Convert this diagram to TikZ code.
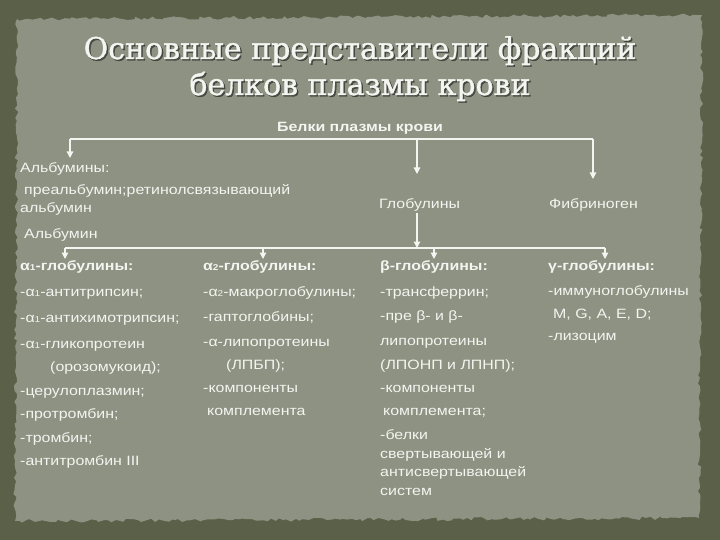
\documentclass[tikz,border=0pt]{standalone}
\usepackage{fontspec}
\setmainfont[FakeStretch=1.18]{Liberation Sans}
\newfontfamily\titlefont[FakeBold=1.2]{DejaVu Serif}
\usetikzlibrary{arrows.meta,decorations.pathmorphing}
\definecolor{bgdark}{HTML}{5B6049}
\definecolor{paper}{HTML}{8E9283}
\definecolor{txt}{HTML}{F4F4F0}
\newcommand{\sub}[1]{{\fontsize{8.5}{9}\selectfont #1}}
\begin{document}
\begin{tikzpicture}[x=1pt,y=-1pt,
  lbl/.style={text=txt, font=\fontsize{13.5}{15}\selectfont, anchor=base west, inner sep=0pt},
  hdr/.style={lbl, font=\fontsize{13.5}{15}\selectfont\bfseries},
  ttl/.style={text=txt, font=\titlefont\fontsize{30}{34}\selectfont, inner sep=0pt, anchor=base},
  ttlshadow/.style={ttl, text=black, opacity=0.45},
  conn/.style={draw=txt, line width=1.2pt},
  arr/.style={conn, -{Triangle[width=6.5pt,length=6.5pt]}}]
\useasboundingbox (0,0) rectangle (720,540);
\fill[bgdark] (0,0) rectangle (720,540);
\fill[paper, decorate, decoration={random steps,segment length=4pt,amplitude=1.8pt}]
  (17,19) -- (702,15) -- (699,518) -- (15,521) -- cycle;

% title
\node[ttlshadow] at (361.5,60.5) {Основные представители фракций};
\node[ttl] (t1) at (360,59) {Основные представители фракций};
\node[ttlshadow] at (361.5,96.5) {белков плазмы крови};
\node[ttl] (t2) at (360,95) {белков плазмы крови};

% top level
\node[hdr, anchor=base] (root) at (360,132) {Белки плазмы крови};
\node[lbl] (alb1) at (20,173) {Альбумины:};
\node[lbl] (alb2) at (24,195) {преальбумин;ретинолсвязывающий};
\node[lbl] (alb3) at (20,213) {альбумин};
\node[lbl] (alb4) at (24,238) {Альбумин};
\node[lbl] (glob) at (379,208) {Глобулины};
\node[lbl] (fib) at (549,208) {Фибриноген};

\coordinate (hA) at (70,139);
\coordinate (hG) at (417,139);
\coordinate (hF) at (593,139);
\coordinate (eA) at (70,158);
\coordinate (eG) at (417,174);
\coordinate (eF) at (593,179);
\draw[conn] (hA) -- (hF);
\draw[arr] (hA) -- (eA);
\draw[arr] (hG) -- (eG);
\draw[arr] (hF) -- (eF);

% second level
\coordinate (gTop) at (417,213);
\coordinate (gBot) at (417,248);
\coordinate (h1) at (65,248);
\coordinate (h2) at (263,248);
\coordinate (h3) at (434,248);
\coordinate (h4) at (605,248);
\coordinate (e1) at (65,259);
\coordinate (e2) at (263,259);
\coordinate (e3) at (434,259);
\coordinate (e4) at (605,259);
\draw[arr] (gTop) -- (gBot);
\draw[conn] (h1) -- (h4);
\draw[arr] (h1) -- (e1);
\draw[arr] (h2) -- (e2);
\draw[arr] (h3) -- (e3);
\draw[arr] (h4) -- (e4);

% column 1
\node[hdr] (c1h) at (20,270) {α\sub{1}-глобулины:};
\node[lbl] (c1a) at (20,296) {-α\sub{1}-антитрипсин;};
\node[lbl] (c1b) at (20,322) {-α\sub{1}-антихимотрипсин;};
\node[lbl] (c1c) at (20,348) {-α\sub{1}-гликопротеин};
\node[lbl] (c1d) at (50,371) {(орозомукоид);};
\node[lbl] (c1e) at (20,395) {-церулоплазмин;};
\node[lbl] (c1f) at (20,418) {-протромбин;};
\node[lbl] (c1g) at (20,442) {-тромбин;};
\node[lbl] (c1i) at (20,465) {-антитромбин III};

% column 2
\node[hdr] (c2h) at (203,270) {α\sub{2}-глобулины:};
\node[lbl] (c2a) at (203,296) {-α\sub{2}-макроглобулины;};
\node[lbl] (c2b) at (203,321) {-гаптоглобины;};
\node[lbl] (c2c) at (203,346) {-α-липопротеины};
\node[lbl] (c2d) at (226,369) {(ЛПБП);};
\node[lbl] (c2e) at (203,392) {-компоненты};
\node[lbl] (c2f) at (207,415) {комплемента};

% column 3
\node[hdr] (c3h) at (380,270) {β-глобулины:};
\node[lbl] (c3a) at (380,296) {-трансферрин;};
\node[lbl] (c3b) at (380,320) {-пре β- и β-};
\node[lbl] (c3c) at (380,345) {липопротеины};
\node[lbl] (c3d) at (380,369) {(ЛПОНП и ЛПНП);};
\node[lbl] (c3e) at (380,392) {-компоненты};
\node[lbl] (c3f) at (383,415) {комплемента;};
\node[lbl] (c3g) at (380,439) {-белки};
\node[lbl] (c3h2) at (380,458) {свертывающей и};
\node[lbl] (c3i) at (380,476) {антисвертывающей};
\node[lbl] (c3j) at (380,495) {систем};

% column 4
\node[hdr] (c4h) at (548,270) {γ-глобулины:};
\node[lbl] (c4a) at (548,295) {-иммуноглобулины};
\node[lbl] (c4b) at (553,318) {M, G, A, E, D;};
\node[lbl] (c4c) at (548,340) {-лизоцим};
\end{tikzpicture}
\end{document}
